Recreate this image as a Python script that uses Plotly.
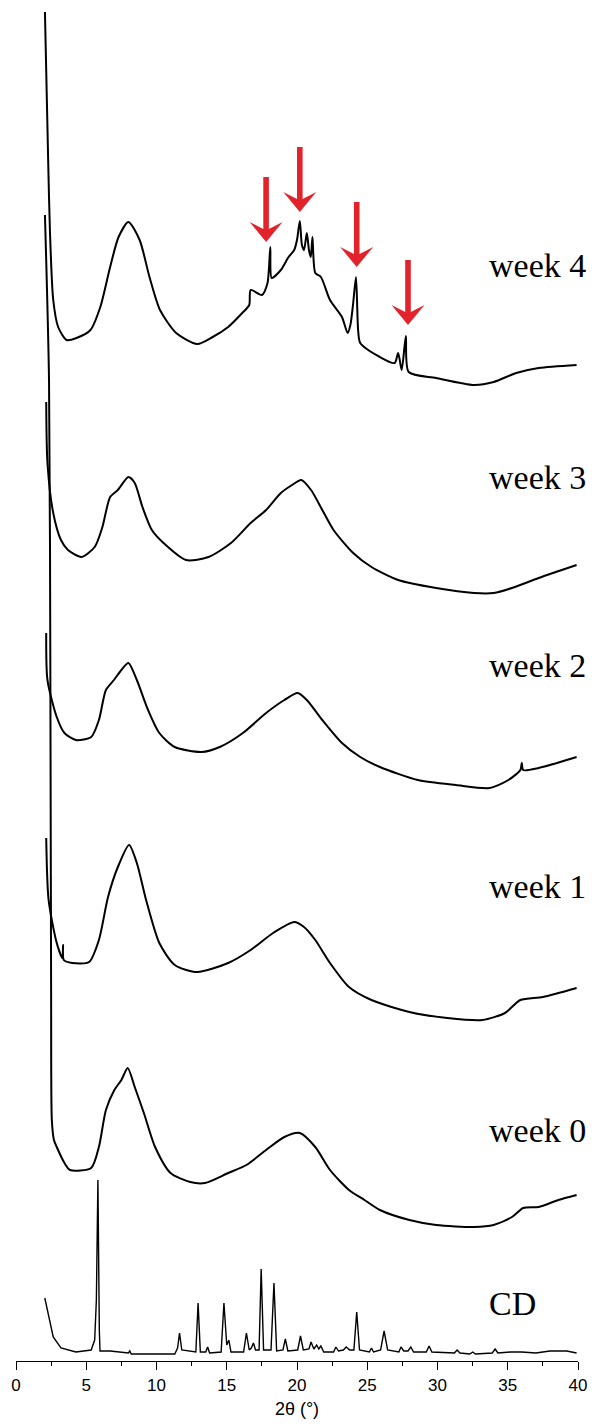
import plotly.graph_objects as go

# ---------------- data (2θ in degrees, intensity in a.u.) ----------------
tt_w4 = [2.06, 2.3, 2.42, 2.65, 3.0, 3.6, 4.3, 5.3, 6.0, 6.7, 7.3, 8.0, 8.8, 9.5, 10.25,
         11.4, 12.9, 14.0, 15.1, 16.1, 16.6, 16.7, 17.5, 17.9, 18.1, 18.2, 18.85, 19.4,
         19.8, 20.0, 20.2, 20.35, 20.5, 20.7, 20.85, 20.98, 21.1, 21.3, 21.7, 22.35, 23.2,
         23.6, 23.8, 24.0, 24.2, 24.35, 24.5, 25.9, 26.95, 27.2, 27.45, 27.75, 27.95, 29.9,
         32.6, 34.0, 35.6, 37.2, 39.9]
int_w4 = [378, 223, 157, 90, 63, 50, 52, 60, 83, 123, 153, 168, 150, 113, 80,
          57, 46, 53, 63, 77, 85, 100, 95, 107, 143, 112, 120, 133,
          140, 150, 169, 145, 140, 157, 140, 133, 153, 117, 113, 90, 73,
          57, 65, 87, 113, 60, 47, 33, 27, 37, 20, 54, 18, 12,
          5, 8, 17, 22, 25]

tt_w3 = [2.15, 2.24, 2.65, 3.2, 3.7, 4.67, 5.6, 6.15, 6.7, 7.25, 8.0, 8.45, 9.0, 9.67,
         10.5, 12.1, 13.7, 15.3, 16.7, 17.8, 18.85, 19.65, 20.3, 21.0, 21.8, 22.6, 24.0,
         25.3, 27.2, 29.9, 32.6, 34.0, 35.3, 37.2, 39.9]
int_w3 = [198, 137, 87, 60, 50, 43, 53, 73, 103, 110, 123, 117, 93, 70,
          57, 40, 43, 57, 77, 90, 107, 115, 120, 110, 90, 70, 47,
          33, 20, 12, 7, 7, 12, 22, 35]

tt_w2 = [2.15, 2.24, 2.9, 3.45, 4.26, 5.35, 5.9, 6.4, 6.97, 7.5, 8.0, 8.6, 9.4, 10.2,
         11.3, 13.2, 14.5, 16.15, 17.8, 19.1, 20.05, 20.7, 21.8, 23.2, 24.5, 25.9, 28.6,
         31.3, 33.7, 35.05, 35.9, 36.0, 36.1, 37.2, 39.9]
int_w2 = [157, 110, 73, 57, 50, 53, 70, 100, 110, 120, 127, 110, 80, 57,
          43, 38, 43, 57, 77, 90, 97, 90, 70, 47, 33, 23, 10,
          5, 2, 10, 20, 27, 20, 22, 33]

tt_w1 = [2.15, 2.32, 2.9, 3.3, 3.35, 3.4, 4.0, 5.2, 5.9, 6.55, 7.25, 8.05, 8.6, 9.26,
         10.2, 11.3, 12.9, 15.1, 16.7, 18.3, 19.8, 20.5, 21.3, 22.35, 23.7, 25.3, 28.0,
         30.7, 33.2, 34.8, 35.9, 37.5, 39.9]
int_w1 = [187, 125, 82, 67, 80, 65, 62, 63, 85, 128, 158, 180, 162, 125,
          82, 60, 53, 62, 75, 92, 103, 98, 85, 62, 38, 25, 13,
          7, 5, 12, 25, 28, 37]

tt_w0 = [2.06, 2.35, 2.45, 2.5, 2.55, 2.7, 2.9, 3.45, 3.85, 5.35, 5.9, 6.4, 7.0, 7.5,
         7.95, 8.45, 9.1, 9.9, 11.0, 12.4, 13.45, 15.1, 16.4, 17.8, 19.1, 20.2, 21.3,
         22.35, 23.7, 24.8, 25.9, 28.0, 29.9, 32.6, 34.0, 35.3, 36.1, 37.2, 38.6, 39.9]
int_w0 = [1015, 850, 530, 230, 110, 90, 83, 67, 60, 62, 83, 120, 140, 150,
          162, 143, 117, 83, 57, 48, 47, 57, 65, 80, 93, 97, 83,
          60, 40, 30, 20, 10, 5, 3, 5, 13, 22, 23, 30, 35]

tt_cd = [2.05, 2.37, 2.65, 3.2, 4.26, 5.35, 5.6, 5.72, 5.83, 5.93, 5.98, 6.7, 8.0, 8.1,
         8.2, 11.3, 11.5, 11.64, 11.8, 12.8, 12.96, 13.12, 13.5, 13.64, 13.78, 14.6, 14.8,
         15.0, 15.15, 15.3, 16.2, 16.4, 16.6, 16.75, 16.9, 17.05, 17.3, 17.45, 17.62,
         18.15, 18.36, 18.55, 19.0, 19.17, 19.35, 20.05, 20.25, 20.45, 20.85, 21.0, 21.2,
         21.4, 21.55, 21.7, 21.9, 22.6, 22.77, 22.95, 23.3, 23.5, 23.75, 24.05, 24.25,
         24.45, 25.15, 25.3, 25.45, 25.95, 26.2, 26.45, 27.25, 27.4, 27.6, 27.9, 28.1,
         28.3, 29.2, 29.4, 29.6, 31.2, 31.4, 31.6, 32.3, 32.5, 32.7, 33.9, 34.1, 34.3,
         35.2, 36.0, 37.0, 38.0, 39.2, 39.9]
int_cd = [58, 36, 19, 8, 4, 6, 16, 56, 176, 26, 5, 5, 3, 5,
          2, 2, 8, 23, 6, 4, 53, 4, 4, 9, 3, 4, 53,
          11, 16, 4, 4, 23, 6, 8, 13, 6, 6, 87, 6,
          6, 73, 5, 6, 17, 5, 6, 20, 6, 7, 14, 7,
          11, 7, 10, 4, 4, 9, 5, 6, 9, 6, 6, 44,
          6, 4, 8, 4, 6, 25, 6, 4, 9, 5, 5, 9,
          4, 4, 10, 4, 3, 6, 3, 2, 4, 2, 3, 7, 3,
          4, 4, 3, 5, 5, 3]

sample_names = ["week 4", "week 3", "week 2", "week 1", "week 0", "CD"]
stack_offsets = [971, 761, 571, 336, 131, 5]
label_heights = [1096, 884, 696, 475, 231, 58]

arrow_positions = [17.8, 20.2, 24.25, 27.9]
arrow_tip_heights = [1119, 1149, 1094, 1036]

tick_values = [0, 5, 10, 15, 20, 25, 30, 35, 40]
tick_labels = ["0", "5", "10", "15", "20", "25", "30", "35", "40"]

patterns = [(tt_w4, int_w4), (tt_w3, int_w3), (tt_w2, int_w2),
            (tt_w1, int_w1), (tt_w0, int_w0), (tt_cd, int_cd)]

# ---------------- figure ----------------
fig = go.Figure()
for name, (tt, inten), off in zip(sample_names, patterns, stack_offsets):
    is_cd = name == "CD"
    fig.add_trace(go.Scatter(
        x=tt, y=[v + off for v in inten], mode="lines", name=name,
        line=dict(color="black", width=1.4 if is_cd else 2.0,
                  shape="linear" if is_cd else "spline",
                  smoothing=0 if is_cd else 0.7),
        showlegend=False, hoverinfo="skip", cliponaxis=False))

for name, ly in zip(sample_names, label_heights):
    fig.add_annotation(x=33.6, y=ly, xref="x", yref="y", text=name,
                       showarrow=False, xanchor="left", yanchor="middle",
                       borderpad=0,
                       font=dict(family="Liberation Serif", size=34, color="black"))

arrow_path = "M0,0 L16.5,20 L2.8,13 L2.8,65 L-2.8,65 L-2.8,13 L-16.5,20 Z"
for ax_, ay_ in zip(arrow_positions, arrow_tip_heights):
    fig.add_shape(type="path", xref="x", yref="y",
                  xsizemode="pixel", ysizemode="pixel",
                  xanchor=ax_, yanchor=ay_, path=arrow_path,
                  fillcolor="#e3232b", line=dict(width=0), layer="above")

# the page body adds an 8 px margin; the figure is sized to compensate
fig.update_layout(
    width=587, height=1419,
    margin=dict(l=8, r=17, t=0, b=66, autoexpand=False),
    paper_bgcolor="white", plot_bgcolor="white",
    xaxis=dict(range=[0, 40], showline=True, linecolor="black", linewidth=1.3,
               showgrid=False, zeroline=False, automargin=False,
               tickmode="array", tickvals=tick_values, ticktext=tick_labels,
               ticks="outside", ticklen=8, tickwidth=1.3, tickcolor="black",
               minor=dict(dtick=2.5, tick0=0, ticks="outside", ticklen=4,
                          tickwidth=1.3, tickcolor="black", showgrid=False),
               tickfont=dict(family="Liberation Sans", size=17, color="black"),
               title=dict(text="2θ (°)", standoff=8,
                          font=dict(family="Liberation Sans", size=18, color="black"))),
    yaxis=dict(range=[0, 1353], visible=False, showgrid=False, zeroline=False,
               automargin=False),
)

fig.write_html("out.html")
